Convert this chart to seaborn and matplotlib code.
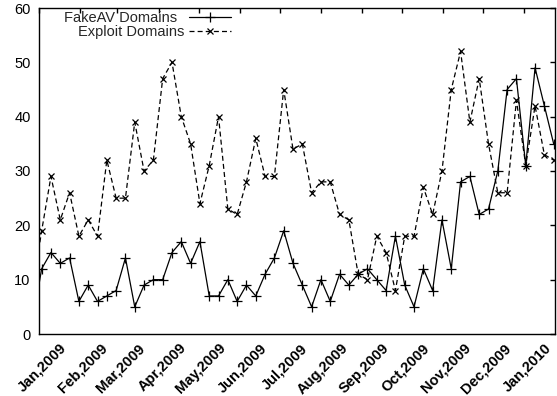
import pandas as pd
import numpy as np
import matplotlib
matplotlib.use("Agg")
import matplotlib.pyplot as plt
import matplotlib.dates as mdates
import matplotlib.transforms as mtransforms
import seaborn as sns

# weekly samples, first one lies just left of the plotted range
start_date = "2008-12-27"
n_weeks = 57
fakeav = [2, 12, 15, 13, 14, 6, 9, 6, 7, 8, 14,
          5, 9, 10, 10, 15, 17, 13, 17, 7, 7,
          10, 6, 9, 7, 11, 14, 19, 13, 9, 5,
          10, 6, 11, 9, 11, 12, 10, 8, 18, 9,
          5, 12, 8, 21, 12, 28, 29, 22, 23, 30,
          45, 47, 31, 49, 42, 35]
exploit = [8, 19, 29, 21, 26, 18, 21, 18, 32, 25, 25,
           39, 30, 32, 47, 50, 40, 35, 24, 31, 40,
           23, 22, 28, 36, 29, 29, 45, 34, 35, 26,
           28, 28, 22, 21, 11, 10, 18, 15, 8, 18,
           18, 27, 22, 30, 45, 52, 39, 47, 35, 26,
           26, 43, 31, 42, 33, 32]
series_names = ["FakeAV Domains", "Exploit Domains"]
yticks = [0, 10, 20, 30, 40, 50, 60]

dates = pd.date_range(start_date, periods=n_weeks, freq="7D")

sns.set_style("white")
plt.rcParams["font.family"] = ["Liberation Sans", "DejaVu Sans"]

fig = plt.figure(figsize=(5.57, 3.96), dpi=100)
ax = fig.add_axes([39 / 557, 1 - 334 / 396, 516 / 557, 326 / 396])

sns.lineplot(x=dates, y=fakeav, ax=ax, color="black", lw=0.9,
             marker="+", markersize=6.5, markeredgewidth=0.9,
             markeredgecolor="black", label=series_names[0])
sns.lineplot(x=dates, y=exploit, ax=ax, color="black", lw=0.9,
             linestyle=(0, (4, 2.5)), marker="x", markersize=4.8,
             markeredgewidth=0.9, markeredgecolor="black",
             label=series_names[1])

ax.set_xlim(pd.Timestamp("2009-01-01"), pd.Timestamp("2010-01-24"))
ax.set_ylim(0, 60)
ax.set_yticks(yticks)
ax.set_xlabel("")
ax.set_ylabel("")

ax.xaxis.set_major_locator(mdates.MonthLocator())
ax.xaxis.set_major_formatter(mdates.DateFormatter("%b,%Y"))

ax.tick_params(axis="both", which="major", direction="in", length=3.6,
               width=1, top=True, right=True, colors="black")
ax.tick_params(axis="y", labelsize=10.5, pad=6)
ax.tick_params(axis="x", labelsize=10.5, pad=0)

offset = mtransforms.ScaledTranslation(0.25, -0.12, fig.dpi_scale_trans)
for lbl in ax.get_xticklabels():
    lbl.set_rotation(45)
    lbl.set_rotation_mode("anchor")
    lbl.set_ha("right")
    lbl.set_va("center")
    lbl.set_fontweight("bold")
    lbl.set_transform(lbl.get_transform() + offset)

for sp in ax.spines.values():
    sp.set_color("black")
    sp.set_linewidth(1.0)

leg = ax.legend(loc="upper right", bbox_to_anchor=(0.378, 1.0),
                frameon=False, markerfirst=False, fontsize=10.5,
                handlelength=2.9, handletextpad=0.8, labelspacing=0.0,
                borderpad=0.2, borderaxespad=0.0)

# right-align legend texts like gnuplot does
renderer = fig.canvas.get_renderer()
texts = leg.get_texts()
widths = [t.get_window_extent(renderer).width for t in texts]
for t, w in zip(texts, widths):
    t.set_x(max(widths) - w)

fig.savefig("out.png", dpi=100)
